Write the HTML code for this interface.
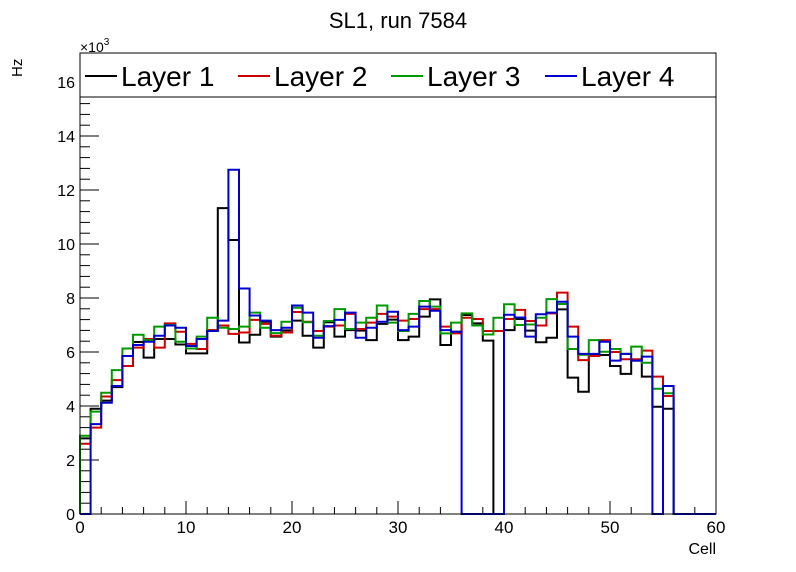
<!DOCTYPE html>
<html><head><meta charset="utf-8"><style>
html,body{margin:0;padding:0;background:#fff;}
svg{display:block;font-family:"Liberation Sans",sans-serif;}
</style></head><body>
<svg id="c" width="796" height="572" viewBox="0 0 796 572">
<rect x="0" y="0" width="796" height="572" fill="#fff"/>
<text x="398" y="28" text-anchor="middle" font-size="22">SL1, run 7584</text>
<text x="80" y="52" font-size="14">×10<tspan dy="-7" font-size="10">3</tspan></text>
<text transform="translate(22,77) rotate(-90)" font-size="15">Hz</text>
<text x="716" y="554" text-anchor="end" font-size="16">Cell</text>
<g id="axes"></g>
<g id="series"></g>
<rect x="80" y="53" width="636" height="461" fill="none" stroke="#000" stroke-width="1"/>
<g id="legend"></g>
</svg>
<script>
const cells = 60;
const seriesNames = ["Layer 1","Layer 2","Layer 3","Layer 4"];
const seriesColors = ["#000000","#cc0000","#009900","#0000cc"];
const yTicks = [0,2,4,6,8,10,12,14,16];
const xTicks = [0,10,20,30,40,50,60];
const layer1 = [2.8,3.9,4.2,4.7,5.85,6.37,5.79,6.48,6.48,6.28,5.95,5.95,6.8,11.33,10.15,6.35,6.64,7.12,6.57,6.8,7.16,6.6,6.16,7.1,6.57,6.81,6.79,6.44,7.04,7.2,6.44,6.57,7.31,7.95,6.26,6.75,7.37,7.06,6.42,0,6.81,7.22,6.79,6.36,6.53,7.58,5.05,4.53,5.9,5.89,5.48,5.19,5.68,5.09,3.97,3.9,0,0,0,0];
const layer2 = [2.6,3.2,4.35,4.96,5.48,6.16,6.48,6.16,7.06,6.75,6.3,6.11,6.81,6.98,6.67,6.72,7.19,7.04,6.6,6.72,7.48,7.12,6.78,6.94,6.98,7.41,6.85,7.09,7.41,7.31,7.16,7.22,7.59,7.59,6.94,6.69,7.27,7.22,6.78,6.78,7.22,7.56,7.15,6.98,7.43,8.2,6.94,5.7,5.85,6.44,6.0,5.73,5.73,6.05,5.09,4.37,0,0,0,0];
const layer3 = [2.9,3.79,4.49,5.33,6.13,6.64,6.44,6.94,7.0,6.38,6.13,6.57,7.27,6.9,6.85,6.94,7.46,6.9,6.7,7.12,7.64,7.1,6.6,7.15,7.59,6.85,7.09,7.27,7.72,7.09,6.78,7.41,7.89,7.68,6.69,7.09,7.43,6.98,6.65,7.27,7.77,7.0,7.02,7.27,7.96,7.78,6.11,5.9,6.44,6.01,6.11,5.93,6.2,5.6,4.64,4.47,0,0,0,0];
const layer4 = [0,3.33,4.12,4.74,5.85,6.26,6.38,6.6,6.98,6.9,6.22,6.48,6.78,7.16,12.75,8.35,7.35,7.16,6.81,6.9,7.72,7.46,6.53,6.96,7.19,7.46,6.53,6.9,7.12,7.49,6.81,6.94,7.68,7.53,6.81,6.75,0,0,0,0,7.38,7.28,6.57,7.4,7.46,7.86,6.57,5.93,5.93,6.38,5.68,5.93,5.68,5.83,0,4.74,0,0,0,0];
const allSeries = [layer1,layer2,layer3,layer4];

const X0=80,X1=716,Y0=514,Ytop=53;
const xs = v => X0 + v*(X1-X0)/cells;
const ys = v => Y0 - v*27;
const NS="http://www.w3.org/2000/svg";
function mk(tag,attrs,parent){const e=document.createElementNS(NS,tag);for(const k in attrs)e.setAttribute(k,attrs[k]);parent.appendChild(e);return e;}
const axes=document.getElementById('axes');
for(let v=0;v<=17.0;v+=0.4){
  const major=Math.abs(v/2-Math.round(v/2))<1e-6;
  const t=mk('line',{x1:X0,x2:X0+(major?19:10),y1:ys(v),y2:ys(v),stroke:'#000','stroke-width':1},axes);
  
  
}
yTicks.forEach(v=>{
  const t=mk('text',{x:X0-5,y:ys(v)+6,'text-anchor':'end','font-size':16},axes);
  t.textContent=v;
  
  
});
for(let v=0;v<=cells;v+=2){
  const major=v%10===0;
  const t=mk('line',{x1:xs(v),x2:xs(v),y1:Y0,y2:Y0-(major?13:7),stroke:'#000','stroke-width':1},axes);
  
  
}
xTicks.forEach(v=>{
  const t=mk('text',{x:xs(v),y:Y0+19,'text-anchor':'middle','font-size':17},axes);
  t.textContent=v;
  
  
});
const sg=document.getElementById('series');
allSeries.forEach((vals,si)=>{
  let d='M'+xs(0)+','+ys(0);
  vals.forEach((v,i)=>{d+=' L'+xs(i)+','+ys(v)+' L'+xs(i+1)+','+ys(v);});
  d+=' L'+xs(cells)+','+ys(0);
  const p=mk('path',{d:d,fill:'none',stroke:seriesColors[si],'stroke-width':2},sg);
  
  
});
const lg=document.getElementById('legend');
const box=mk('rect',{x:80,y:53,width:636,height:44,fill:'#fff',stroke:'#000','stroke-width':1},lg);


const lx=[85,238,391,545];
seriesNames.forEach((n,i)=>{
  const g=mk('g',{},lg);
  
  
  mk('line',{x1:lx[i],x2:lx[i]+32,y1:76,y2:76,stroke:seriesColors[i],'stroke-width':2},g);
  const t=mk('text',{x:lx[i]+36,y:86,'font-size':28},g);
  t.textContent=n;
});
</script>
</body></html>
